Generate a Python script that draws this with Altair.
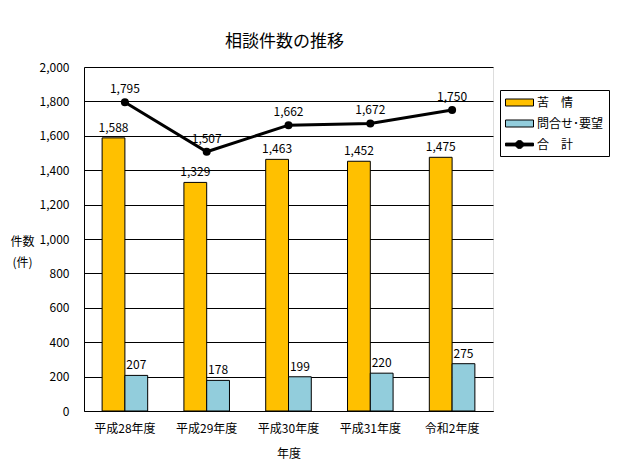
import altair as alt
import pandas as pd

years = ["平成28年度", "平成29年度", "平成30年度", "平成31年度", "令和2年度"]
complaints = [1588, 1329, 1463, 1452, 1475]
inquiries = [207, 178, 199, 220, 275]
totals = [1795, 1507, 1662, 1672, 1750]
series_names = ["苦　情", "問合せ･要望", "合　計"]
colors = ["#FFC000", "#92CDDC", "#000000"]

FONT = "Noto Sans CJK JP"

rows = []
for y, c, q in zip(years, complaints, inquiries):
    rows.append({"year": y, "series": series_names[0], "value": c})
    rows.append({"year": y, "series": series_names[1], "value": q})
bars_df = pd.DataFrame(rows)
tot_df = pd.DataFrame({"year": years, "value": totals, "series": series_names[2]})

xscale = alt.Scale(domain=years, paddingInner=0.443, paddingOuter=0.2215)
yscale = alt.Scale(domain=[0, 2000])

x_enc = alt.X("year:N", scale=xscale, sort=years,
              axis=alt.Axis(title="年度", labelAngle=0, ticks=False, labelPadding=12,
                            titlePadding=14, labelFontSize=12, titleFontSize=12,
                            titleFontWeight="normal", domainColor="black",
                            labelColor="black", titleColor="black",
                            labelFont=FONT, titleFont=FONT))
y_enc = alt.Y("value:Q", scale=yscale,
              axis=alt.Axis(values=list(range(0, 2001, 200)), tickCount=20, format=",d",
                            labelOverlap=False,
                            title=["件数", "(件)"], titleAngle=0, titleX=-62, titleY=169,
                            titleAlign="center", titleBaseline="top", titleLineHeight=21,
                            titleFontSize=12, titleFontWeight="normal",
                            ticks=False, tickSize=0, labelPadding=15, labelFontSize=12,
                            grid=True, gridColor="black", gridOpacity=1, gridWidth=1,
                            domainColor="black", labelColor="black", titleColor="black",
                            labelFont=FONT, titleFont=FONT))

xoff = alt.XOffset("series:N", sort=series_names[:2],
                   scale=alt.Scale(domain=series_names[:2], paddingInner=0, paddingOuter=0))

bars = alt.Chart(bars_df).mark_bar(stroke="black", strokeWidth=1).encode(
    x=x_enc,
    y=y_enc,
    xOffset=xoff,
    fill=alt.Fill("series:N", scale=alt.Scale(domain=series_names[:2], range=colors[:2]), legend=None),
)

bar_labels = alt.Chart(bars_df).mark_text(baseline="bottom", dy=-3, fontSize=12,
                                          font=FONT, color="black").encode(
    x=x_enc, y=y_enc, xOffset=xoff,
    text=alt.Text("value:Q", format=","),
)

line = alt.Chart(tot_df).mark_line(color="black", strokeWidth=3).encode(
    x=x_enc, y=y_enc,
)
pts = alt.Chart(tot_df).mark_point(filled=True, color="black", size=64, opacity=1).encode(
    x=x_enc, y=y_enc,
)
tot_labels = alt.Chart(tot_df).mark_text(baseline="bottom", dy=-6, fontSize=12,
                                         font=FONT, color="black").encode(
    x=x_enc, y=y_enc,
    text=alt.Text("value:Q", format=","),
)

bar_sym = "M-1,-0.5 L3,-0.5 L3,0.5 L-1,0.5 Z"
line_sym = ("M-1,-0.2 L3,-0.2 L3,0.2 L-1,0.2 Z "
            "M0.43,0 A0.57,0.57 0 1,1 1.57,0 A0.57,0.57 0 1,1 0.43,0 Z")

leg_df = pd.DataFrame({"series": series_names, "value": [0, 0, 0], "year": years[:3]})
legend_layer = alt.Chart(leg_df).transform_filter("false").mark_point(
    filled=True, stroke="black", strokeWidth=1, opacity=1).encode(
    x=x_enc, y=y_enc,
    color=alt.Color("series:N", sort=series_names,
                    scale=alt.Scale(domain=series_names, range=colors),
                    legend=alt.Legend(title=None, orient="none", legendX=416, legendY=23,
                                      strokeColor="black", fillColor="white", padding=5,
                                      symbolSize=196, symbolStrokeColor="black",
                                      symbolStrokeWidth=1, symbolOpacity=1,
                                      labelOffset=17, rowPadding=7, labelFontSize=12,
                                      labelFont=FONT, labelColor="black")),
    shape=alt.Shape("series:N", sort=series_names,
                    scale=alt.Scale(domain=series_names, range=[bar_sym, bar_sym, line_sym])),
)

chart = alt.layer(bars, bar_labels, line, pts, tot_labels, legend_layer).properties(
    width=409, height=344,
    title=alt.TitleParams("相談件数の推移", fontSize=17, font=FONT, fontWeight="normal",
                          color="black", anchor="middle", offset=10, dx=-4),
    autosize=alt.AutoSizeParams(type="none"),
    padding={"left": 76, "top": 59, "right": 122, "bottom": 53},
).configure_view(stroke="black", strokeWidth=1).configure(background="white")

chart.save("out.html", embed_options={"renderer": "svg", "actions": False})
